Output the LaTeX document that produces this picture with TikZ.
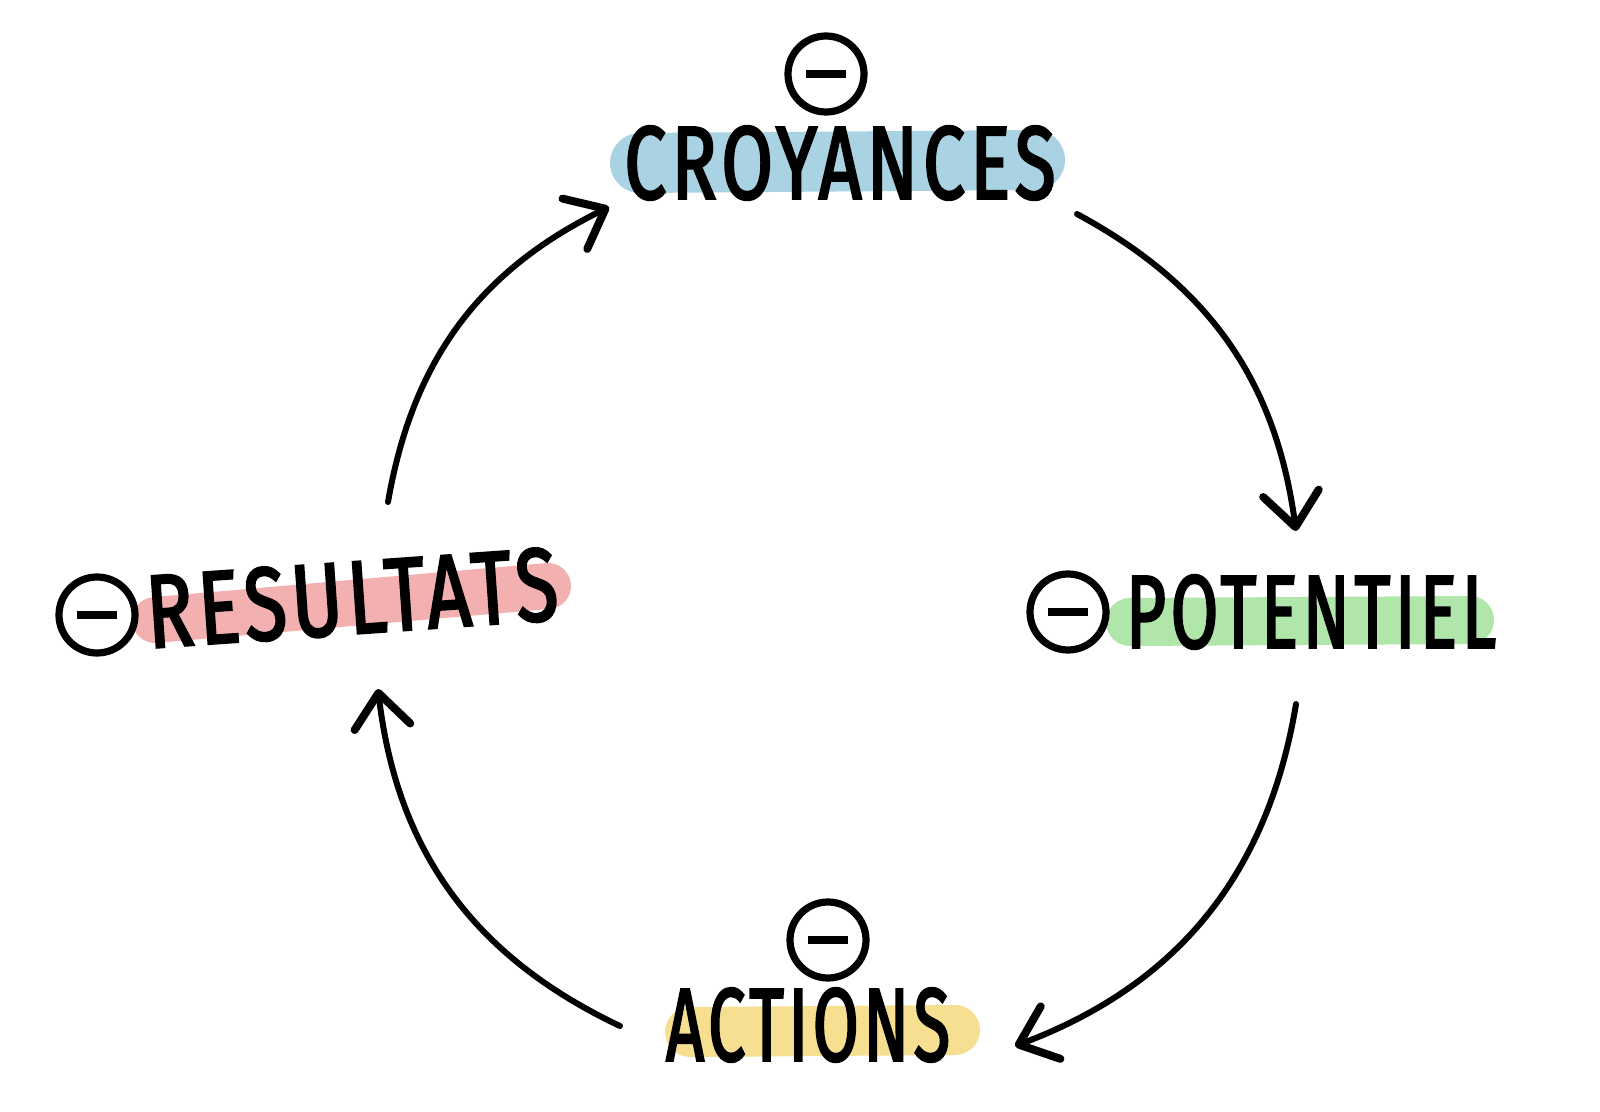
\documentclass[tikz,border=0pt]{standalone}
\usepackage{fontspec}
\setmainfont{Fira Sans}
\newfontfamily\handfont[FakeStretch=0.72,LetterSpace=5,FakeBold=2.2]{Fira Sans}
\usetikzlibrary{arrows.meta,calc}
\definecolor{hlblue}{RGB}{140,196,216}
\definecolor{hlgreen}{RGB}{150,222,140}
\definecolor{hlred}{RGB}{238,150,150}
\definecolor{hlyellow}{RGB}{244,212,110}
\tikzset{
  word/.style={inner sep=0pt, font=\handfont\fontsize{52}{60}\selectfont},
  minus/.style={draw, circle, line width=3.6pt, minimum size=38pt, inner sep=0pt},
  marker/.style={line width=#1, line cap=round, opacity=0.75},
  flow/.style={-{Straight Barb[length=17pt, width=28pt, line width=4pt, round]}, line width=3pt, line cap=round},
}

\begin{document}
\begin{tikzpicture}[x=0.5pt,y=-0.5pt]
  \useasboundingbox (0,0) rectangle (1600,1112);
  % highlights
  \draw[marker=30pt, hlblue] (640,163) -- (1035,160);
  \draw[marker=24pt, hlgreen] (1130,622) -- (1470,620);
  \draw[marker=23pt, hlred] (155,620) -- (548,586);
  \draw[marker=25pt, hlyellow] (690,1032) -- (955,1030);
  % words
  \node[word] (croyances) at (840,163) {CROYANCES};
  \node[word, xscale=0.92] (potentiel) at (1311,612) {POTENTIEL};
  \node[word, rotate=4, xscale=1.03] (resultats) at (352,598) {RESULTATS};
  \node[word, xscale=0.89] (actions) at (808,1025) {ACTIONS};
  \node[minus] (mcro) at (826,74) {\rule{20pt}{4pt}};
  \node[minus] (mpot) at (1068,612) {\rule{20pt}{4pt}};
  \node[minus] (mres) at (97,615) {\rule{20pt}{4pt}};
  \node[minus] (mact) at (828,940) {\rule{20pt}{4pt}};
  % cycle
  \coordinate (c1) at (1077,214);
  \coordinate (p1) at (1296,531);
  \coordinate (p2) at (1296,704);
  \coordinate (a2) at (1015,1046);
  \coordinate (a3) at (620,1026);
  \coordinate (r3) at (378,689);
  \coordinate (r4) at (388,502);
  \coordinate (c4) at (609,207);
  \draw[flow] (c1) to[bend left=27] (p1);
  \draw[flow] (p2) to[bend left=30] (a2);
  \draw[flow] (a3) to[bend left=29] (r3);
  \draw[flow] (r4) to[bend left=27] (c4);
\end{tikzpicture}
\end{document}
